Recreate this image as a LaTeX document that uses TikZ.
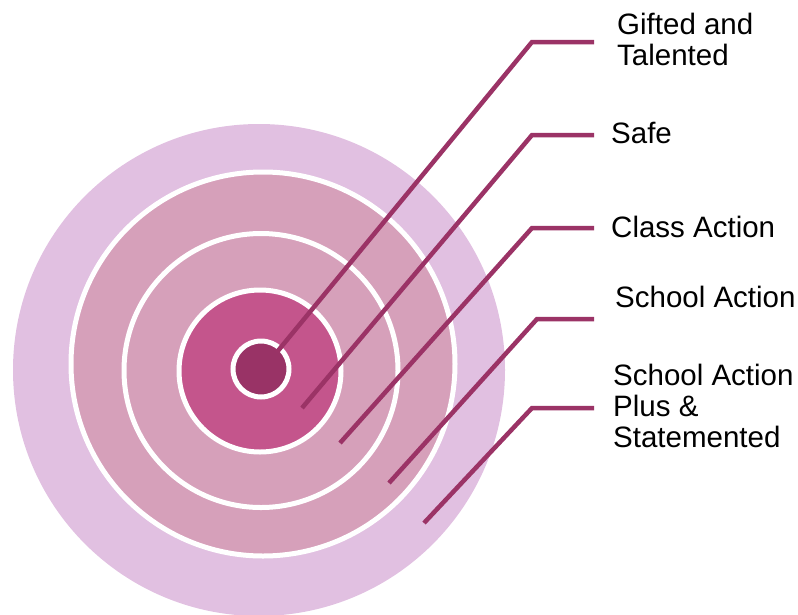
\documentclass[tikz,border=0pt]{standalone}
\usepackage{fontspec}
\setmainfont{Liberation Sans}
\definecolor{outerc}{HTML}{E1C0E1}
\definecolor{midc}{HTML}{D6A0BA}
\definecolor{innerc}{HTML}{C4558C}
\definecolor{corec}{HTML}{993366}
\definecolor{linec}{HTML}{9B3366}
\begin{document}
\begin{tikzpicture}[x=1pt,y=-1pt,
  ring/.style={draw=white,line width=5pt},
  lead/.style={draw=linec,line width=4.5pt},
  lbl/.style={anchor=base west,inner sep=0pt,font=\fontsize{29.5}{31}\selectfont,align=left}]
\useasboundingbox (0,0) rectangle (798,614);
\coordinate (c) at (260,371);
\coordinate (c2) at (263,364);
\fill[outerc] (259,370) circle[radius=246pt];
\filldraw[fill=midc, ring] (c2) circle[radius=192pt];
\filldraw[fill=midc, ring] (261,370.5) circle[radius=137pt];
\filldraw[fill=innerc, ring] (c) circle[radius=81pt];
\filldraw[fill=corec, ring] (261,369) circle[radius=28pt];
% leader coordinates
\coordinate (a1) at (277,352); \coordinate (b1) at (532,42);  \coordinate (e1) at (594,42);
\coordinate (a2) at (302,408); \coordinate (b2) at (532,135); \coordinate (e2) at (594,135);
\coordinate (a3) at (340,443); \coordinate (b3) at (532,228); \coordinate (e3) at (594,228);
\coordinate (a4) at (389,483); \coordinate (b4) at (537,319); \coordinate (e4) at (594,319);
\coordinate (a5) at (424,523); \coordinate (b5) at (532,408); \coordinate (e5) at (594,408);
\draw[lead] (a1) -- (b1) -- (e1);
\draw[lead] (a2) -- (b2) -- (e2);
\draw[lead] (a3) -- (b3) -- (e3);
\draw[lead] (a4) -- (b4) -- (e4);
\draw[lead] (a5) -- (b5) -- (e5);
% labels
\node[lbl] (t1) at (617,65) {Gifted and\\Talented};
\node[lbl] (t2) at (611,143) {Safe};
\node[lbl] (t3) at (611,237) {Class Action};
\node[lbl] (t4) at (615,307) {School Action};
\node[lbl] (t5) at (613,447) {School Action\\Plus \&\\Statemented};
\end{tikzpicture}
\end{document}
